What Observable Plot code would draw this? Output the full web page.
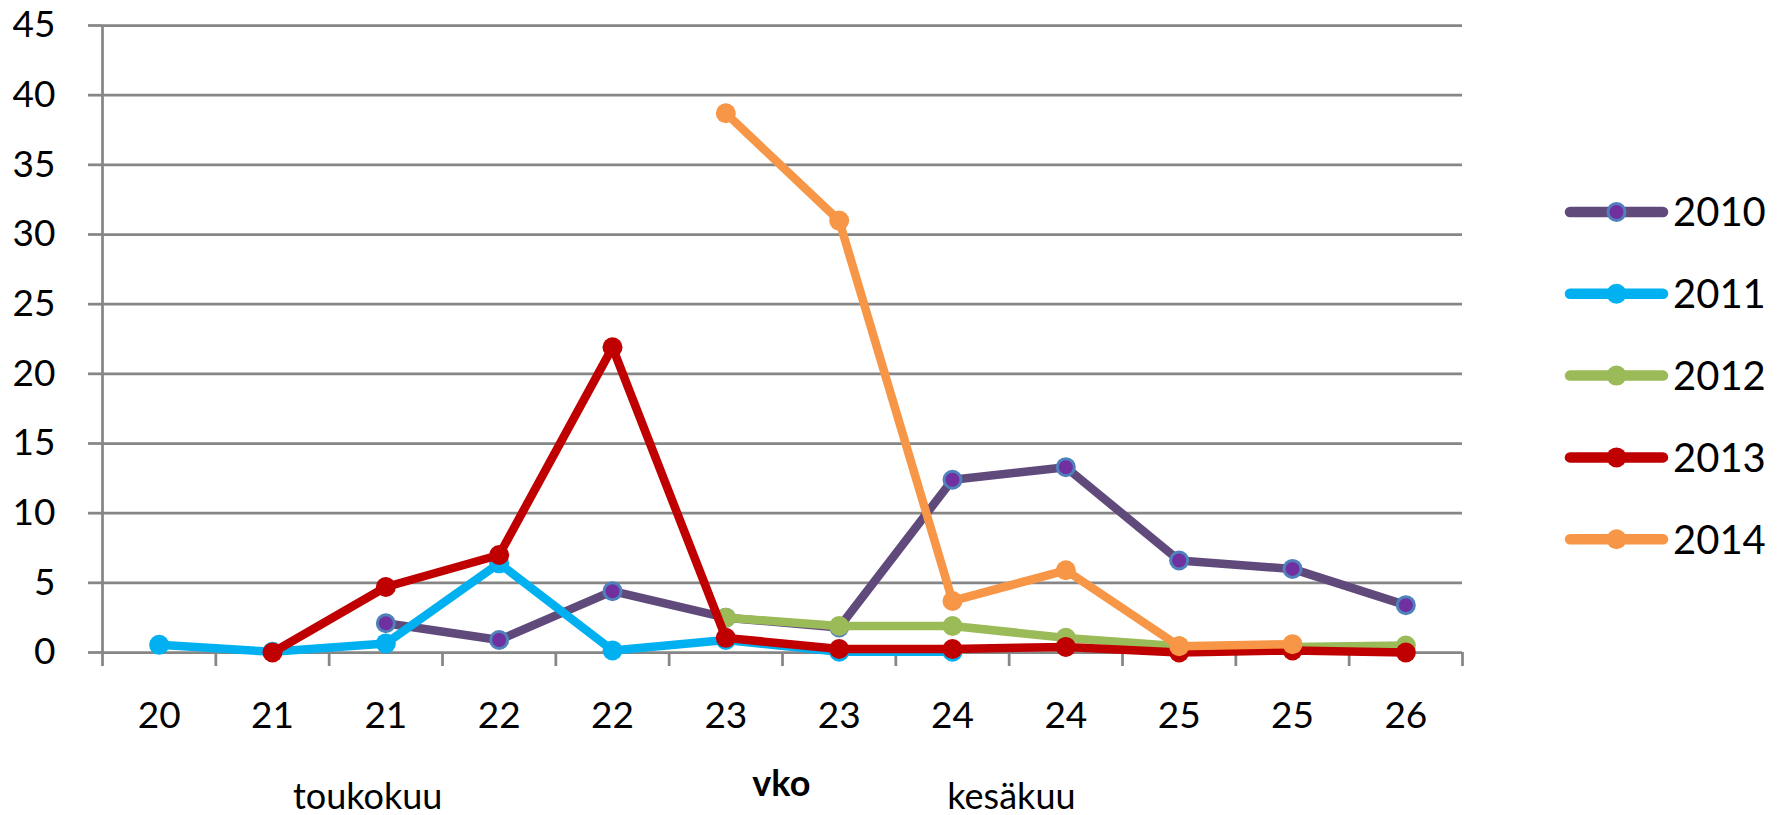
<!DOCTYPE html>
<html>
<head>
<meta charset="utf-8">
<script src="https://cdn.jsdelivr.net/npm/d3@7"></script>
<script src="https://cdn.jsdelivr.net/npm/@observablehq/plot@0.6"></script>
<style>
  body { margin: 0; background: #ffffff; }
  #chart { width: 1777px; height: 815px; }
</style>
</head>
<body>
<div id="chart"></div>
<script>
// ---- data ----
const weeks = ["20", "21", "21", "22", "22", "23", "23", "24", "24", "25", "25", "26"];
const years = ["2010", "2011", "2012", "2013", "2014"];
const v2010 = [null, null, 2.1, 0.9, 4.4, 2.5, 1.8, 12.4, 13.3, 6.6, 6.0, 3.4];
const v2011 = [0.55, 0.05, 0.65, 6.4, 0.15, 0.9, 0.05, 0.05, null, null, null, null];
const v2012 = [null, null, null, null, null, 2.5, 1.9, 1.9, 1.05, 0.45, 0.4, 0.5];
const v2013 = [null, 0, 4.7, 7.0, 21.9, 1.05, 0.25, 0.25, 0.4, 0, 0.15, 0];
const v2014 = [null, null, null, null, null, 38.7, 31.0, 3.7, 5.9, 0.45, 0.6, null];
const yTicks = [0, 5, 10, 15, 20, 25, 30, 35, 40, 45];
const xTitle = "vko";
const months = ["toukokuu", "kesäkuu"];

// ---- styles ----
const series = [v2010, v2011, v2012, v2013, v2014];
const lineColors = ["#604A7B", "#00B0F0", "#9BBB59", "#C00000", "#F79646"];
const dotFill = ["#7030A0", "#00B0F0", "#9BBB59", "#C00000", "#F79646"];
const dotStroke = ["#4F81BD", "none", "none", "none", "none"];
const grid = "#868686";
const FONT = "Lato, 'Liberation Sans', Arial, sans-serif";

const rows = [];
years.forEach((y, k) => series[k].forEach((v, i) => {
  if (v !== null) rows.push({year: y, i, value: v});
}));
const boundaries = d3.range(weeks.length + 1);

const marks = [
  Plot.gridY({ticks: yTicks, stroke: grid, strokeOpacity: 1, strokeWidth: 2.75}),
  Plot.axisY({ticks: yTicks, tickSize: 14, tickPadding: 33, stroke: grid, strokeWidth: 2.75,
              fill: "#000", fontSize: 37, tickFormat: d => String(d), label: null}),
  Plot.ruleX([0], {y1: 0, y2: 45, stroke: grid, strokeWidth: 2.75}),
  Plot.axisX({ticks: boundaries, tickSize: 14, stroke: grid, strokeWidth: 2.75,
              tickFormat: () => "", label: null}),
  Plot.text(weeks, {x: (d, i) => i + 0.5, text: d => d, frameAnchor: "bottom", dy: 64,
                    fontSize: 37, fill: "#000", lineAnchor: "middle"}),
  Plot.text([xTitle], {x: 5.99, text: d => d, frameAnchor: "bottom", dy: 132,
                       fontSize: 36, fontWeight: "bold", fill: "#000", lineAnchor: "middle"}),
  Plot.text([months[0]], {x: 2.34, text: d => d, frameAnchor: "bottom", dy: 145,
                          fontSize: 36, fill: "#000", lineAnchor: "middle"}),
  Plot.text([months[1]], {x: 8.02, text: d => d, frameAnchor: "bottom", dy: 145,
                          fontSize: 36, fill: "#000", lineAnchor: "middle"})
];

years.forEach((y, k) => {
  const d = rows.filter(r => r.year === y);
  marks.push(Plot.line(d, {x: r => r.i + 0.5, y: "value", stroke: lineColors[k], strokeWidth: 8.5,
                           strokeLinejoin: "round", strokeLinecap: "round"}));
  marks.push(Plot.dot(d, {x: r => r.i + 0.5, y: "value", r: k === 0 ? 8.5 : 10,
                          fill: dotFill[k], stroke: dotStroke[k], strokeWidth: k === 0 ? 3 : 0}));
});

const chart = Plot.plot({
  width: 1777,
  height: 815,
  marginLeft: 102,
  marginRight: 315,
  marginTop: 25,
  marginBottom: 163,
  style: {fontFamily: FONT, background: "#fff", overflow: "visible"},
  x: {type: "linear", domain: [0, weeks.length], axis: null},
  y: {domain: [0, 45], axis: null},
  marks
});
document.getElementById("chart").appendChild(chart);

// ---- legend (drawn into the same SVG, right side) ----
const svg = d3.select(chart);
const lg = svg.append("g");
years.forEach((y, k) => {
  const cy = 212 + k * 81.8;
  const g = lg.append("g").attr("transform", `translate(0,${cy})`);
  g.append("line").attr("x1", 1570).attr("x2", 1663).attr("y1", 0).attr("y2", 0)
    .attr("stroke", lineColors[k]).attr("stroke-width", 10.5).attr("stroke-linecap", "round");
  g.append("circle").attr("cx", 1616.5).attr("cy", 0).attr("r", k === 0 ? 8.5 : 10)
    .attr("fill", dotFill[k]).attr("stroke", dotStroke[k]).attr("stroke-width", k === 0 ? 3 : 0);
  g.append("text").attr("x", 1673).attr("y", 0).attr("dy", "0.36em")
    .attr("text-anchor", "start")
    .style("font-family", FONT).style("font-size", "40px")
    .attr("fill", "#000").text(y);
});
</script>
</body>
</html>
